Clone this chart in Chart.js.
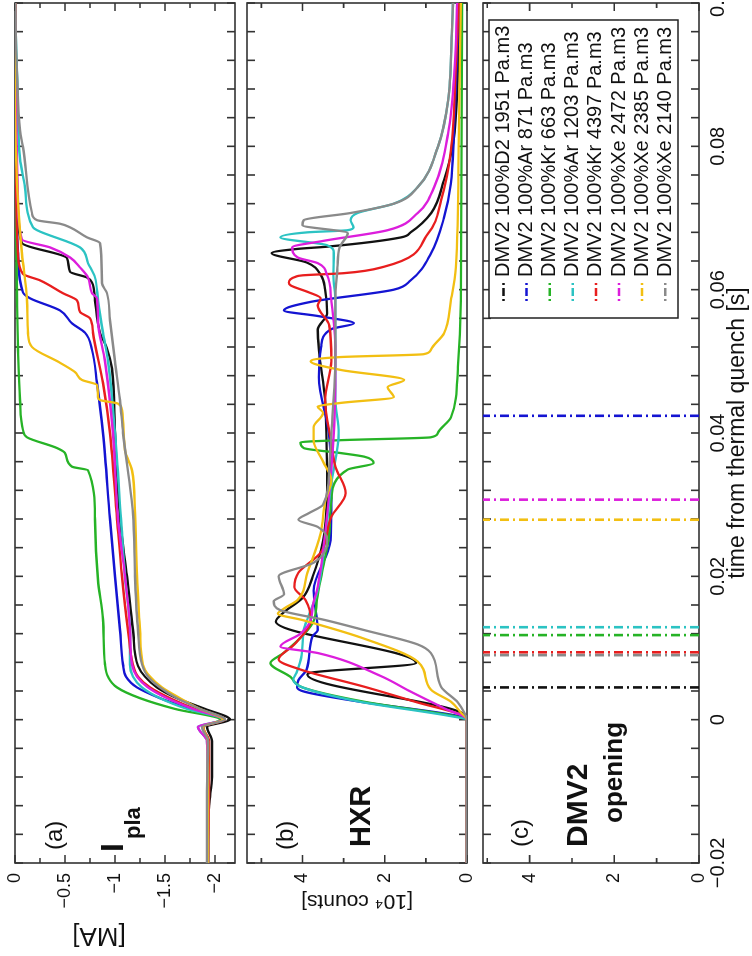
<!DOCTYPE html>
<html>
<head>
<meta charset="utf-8">
<script src="https://cdn.jsdelivr.net/npm/chart.js@4.4.1/dist/chart.umd.min.js"></script>
<style>
    html, body { margin: 0; padding: 0; background: #fff; overflow: hidden; }
    /* the figure is drawn upright and then turned a quarter turn to the left */
    #fig {
        position: absolute; left: 0; top: 0;
        width: 956px; height: 752px;
        transform-origin: 0 0;
        transform: translateY(956px) rotate(-90deg);
        background: #fff;
    }
    #fig canvas { position: absolute; left: 0; }
</style>
</head>
<body>
<div id="fig">
    <canvas id="panelA" width="956" height="241" style="top:0px"></canvas>
    <canvas id="panelB" width="956" height="234" style="top:241px"></canvas>
    <canvas id="panelC" width="956" height="277" style="top:475px"></canvas>
</div>
<script>
// ---------- data (time from thermal quench [s], value) ----------
const seriesLabels = [
    'DMV2 100%D2 1951 Pa.m3',
    'DMV2 100%Ar 871 Pa.m3',
    'DMV2 100%Kr 663 Pa.m3',
    'DMV2 100%Ar 1203 Pa.m3',
    'DMV2 100%Kr 4397 Pa.m3',
    'DMV2 100%Xe 2472 Pa.m3',
    'DMV2 100%Xe 2385 Pa.m3',
    'DMV2 100%Xe 2140 Pa.m3'
];
const seriesColors = ['#111111', '#1414d2', '#26b326', '#2cc3c3', '#e81e1e', '#dc1edc', '#f2bf12', '#8a8a8a'];

// (a) plasma current [MA]
const iplaD2_1951 = [[-0.02,-1.93],[-0.012,-1.94],[-0.008,-1.97],[-0.003,-1.97],[-0.001,-1.92],[0,-2.15],[0.0015,-1.9],[0.003,-1.62],[0.0045,-1.42],[0.006,-1.3],[0.0075,-1.23],[0.0125,-1.18],[0.02,-1.12],[0.028,-1.05],[0.04,-1.0],[0.049,-0.97],[0.0518,-0.92],[0.054,-0.85],[0.0585,-0.8],[0.061,-0.77],[0.0617,-0.72],[0.0625,-0.55],[0.0644,-0.52],[0.0665,-0.07],[0.07,-0.03],[0.08,-0.01],[0.1,0]];
const iplaAr871 = [[-0.02,-1.93],[-0.01,-1.93],[-0.003,-1.93],[-0.001,-1.88],[0,-2.08],[0.0015,-1.75],[0.003,-1.45],[0.0045,-1.22],[0.006,-1.11],[0.0077,-1.08],[0.0125,-1.05],[0.02,-1.0],[0.028,-0.95],[0.04,-0.88],[0.047,-0.82],[0.0516,-0.77],[0.054,-0.7],[0.0553,-0.57],[0.0571,-0.45],[0.0588,-0.15],[0.0596,-0.08],[0.065,-0.03],[0.075,-0.01],[0.1,0]];
const iplaKr663 = [[-0.02,-1.93],[-0.01,-1.93],[-0.003,-1.93],[-0.001,-1.88],[0,-2.05],[0.0015,-1.6],[0.003,-1.25],[0.0045,-1.02],[0.006,-0.93],[0.0077,-0.9],[0.014,-0.88],[0.0195,-0.83],[0.0279,-0.8],[0.0348,-0.73],[0.0353,-0.57],[0.0372,-0.5],[0.0379,-0.42],[0.0394,-0.12],[0.0404,-0.08],[0.0446,-0.05],[0.0516,-0.03],[0.0585,-0.02],[0.07,-0.01],[0.1,0]];
const iplaAr1203 = [[-0.02,-1.93],[-0.01,-1.93],[-0.003,-1.92],[-0.001,-1.83],[0,-2.08],[0.0015,-1.72],[0.003,-1.45],[0.0045,-1.27],[0.006,-1.18],[0.0077,-1.15],[0.0125,-1.15],[0.02,-1.1],[0.028,-1.06],[0.04,-1.0],[0.05,-0.93],[0.054,-0.88],[0.0585,-0.83],[0.0617,-0.8],[0.0637,-0.73],[0.0659,-0.65],[0.0683,-0.22],[0.0687,-0.18],[0.0743,-0.1],[0.0783,-0.05],[0.09,-0.02],[0.1,0]];
const iplaKr4397 = [[-0.02,-1.93],[-0.01,-1.94],[-0.003,-1.94],[-0.001,-1.88],[0,-2.1],[0.0015,-1.8],[0.003,-1.55],[0.0045,-1.35],[0.006,-1.23],[0.0077,-1.18],[0.0125,-1.13],[0.02,-1.07],[0.028,-1.02],[0.04,-0.95],[0.047,-0.88],[0.054,-0.78],[0.056,-0.75],[0.0569,-0.65],[0.0585,-0.62],[0.0595,-0.48],[0.0613,-0.25],[0.0622,-0.08],[0.065,-0.03],[0.075,-0.01],[0.1,0]];
const iplaXe2472 = [[-0.02,-1.93],[-0.01,-1.93],[-0.003,-1.92],[-0.001,-1.83],[0,-2.08],[0.0015,-1.78],[0.003,-1.52],[0.0045,-1.33],[0.006,-1.22],[0.0077,-1.17],[0.0125,-1.15],[0.02,-1.1],[0.028,-1.03],[0.04,-0.98],[0.05,-0.9],[0.0557,-0.83],[0.0588,-0.82],[0.0595,-0.77],[0.0617,-0.73],[0.0631,-0.65],[0.0645,-0.55],[0.0659,-0.35],[0.067,-0.07],[0.072,-0.03],[0.085,-0.01],[0.1,0]];
const iplaXe2385 = [[-0.02,-1.93],[-0.01,-1.93],[-0.003,-1.93],[-0.001,-1.88],[0,-2.08],[0.0015,-1.85],[0.003,-1.65],[0.0045,-1.47],[0.006,-1.35],[0.0077,-1.28],[0.0125,-1.25],[0.02,-1.22],[0.0288,-1.2],[0.0348,-1.17],[0.0376,-1.1],[0.0432,-1.07],[0.0441,-1.03],[0.0446,-0.85],[0.045,-0.83],[0.0467,-0.82],[0.0474,-0.67],[0.0485,-0.6],[0.0498,-0.45],[0.052,-0.17],[0.0539,-0.13],[0.0585,-0.12],[0.065,-0.07],[0.07,-0.04],[0.075,-0.02],[0.085,0],[0.1,0]];
const iplaXe2140 = [[-0.02,-1.92],[-0.01,-1.92],[-0.003,-1.93],[-0.001,-1.87],[0,-2.1],[0.0015,-1.85],[0.003,-1.62],[0.0045,-1.45],[0.006,-1.33],[0.0077,-1.27],[0.0125,-1.23],[0.02,-1.2],[0.0288,-1.18],[0.04,-1.08],[0.0446,-1.05],[0.05,-1.0],[0.0557,-0.95],[0.0595,-0.92],[0.0609,-0.87],[0.0665,-0.85],[0.0673,-0.72],[0.0687,-0.55],[0.0692,-0.45],[0.0697,-0.22],[0.0707,-0.17],[0.0799,-0.08],[0.0822,-0.05],[0.09,-0.02],[0.1,0]];

// (b) hard X-rays [10^4 counts]
const hxrD2_1951 = [[-0.02,0],[0,0],[0.0007,0.05],[0.0063,3.88],[0.0066,3.75],[0.0079,1.24],[0.0137,4.65],[0.015,4.45],[0.017,4.0],[0.02,3.75],[0.025,3.5],[0.0334,3.4],[0.04,3.42],[0.0446,3.45],[0.0516,3.6],[0.0544,3.63],[0.0567,3.4],[0.06,3.45],[0.062,3.55],[0.0638,3.9],[0.0651,4.75],[0.0657,4.1],[0.066,3.4],[0.0673,1.6],[0.068,1.37],[0.0707,0.87],[0.0753,0.56],[0.0804,0.34],[0.091,0.22],[0.1,0.18]];
const hxrAr871 = [[-0.02,0],[0,0],[0.0005,0.2],[0.0025,2.6],[0.0039,3.95],[0.0045,4.13],[0.0055,4.1],[0.007,3.9],[0.0116,3.76],[0.0125,3.63],[0.018,3.73],[0.025,3.32],[0.033,3.3],[0.04,3.36],[0.0478,3.6],[0.052,3.55],[0.0545,3.3],[0.0553,2.75],[0.0563,3.6],[0.0571,4.45],[0.0583,3.8],[0.06,1.78],[0.0613,1.37],[0.065,0.88],[0.07,0.56],[0.0748,0.39],[0.0818,0.32],[0.0957,0.22],[0.1,0.18]];
const hxrKr663 = [[-0.02,0],[0,0],[0.0005,0.3],[0.0025,2.5],[0.0045,4.0],[0.006,4.3],[0.0079,4.78],[0.0093,4.46],[0.012,3.95],[0.0139,3.72],[0.0167,3.65],[0.0213,3.5],[0.026,3.35],[0.0307,3.3],[0.0349,2.9],[0.0358,2.27],[0.0367,2.5],[0.0372,3.07],[0.0379,3.97],[0.0387,4.05],[0.039,3.07],[0.0394,0.88],[0.04,0.71],[0.0422,0.39],[0.0492,0.22],[0.0585,0.15],[0.1,0.12]];
const hxrAr1203 = [[-0.02,0],[0,0],[0.0005,0.4],[0.0025,2.6],[0.0045,4.0],[0.0056,4.22],[0.0065,4.15],[0.009,4.02],[0.0125,3.97],[0.0145,3.85],[0.018,3.63],[0.025,3.45],[0.033,3.3],[0.04,3.12],[0.0446,3.2],[0.0516,3.2],[0.0585,3.2],[0.062,3.25],[0.0651,3.24],[0.0662,3.4],[0.0673,4.54],[0.068,3.88],[0.0683,2.9],[0.0687,2.76],[0.0697,2.83],[0.0707,2.66],[0.072,1.78],[0.0743,1.2],[0.0799,0.71],[0.0864,0.46],[0.0957,0.37],[0.1,0.34]];
const hxrKr4397 = [[-0.02,0],[0,0],[0.0007,0.15],[0.0024,1.2],[0.0046,2.5],[0.007,4.05],[0.0084,4.58],[0.0105,4.2],[0.0139,3.8],[0.0167,3.93],[0.0185,4.2],[0.0205,4.1],[0.0233,3.56],[0.0283,3.3],[0.0316,2.95],[0.0353,3.2],[0.0386,3.3],[0.0446,3.45],[0.05,3.3],[0.055,3.35],[0.0578,3.63],[0.0588,3.56],[0.0597,3.88],[0.0606,4.29],[0.061,4.33],[0.0618,4.17],[0.062,4.0],[0.0623,3.0],[0.0632,2.02],[0.0678,0.95],[0.0725,0.63],[0.0794,0.39],[0.091,0.27],[0.1,0.2]];
const hxrXe2472 = [[-0.02,0],[0,0],[0.0016,0.56],[0.004,1.4],[0.0061,2.1],[0.0093,3.63],[0.0102,4.54],[0.012,4.05],[0.0139,3.8],[0.016,3.75],[0.018,3.65],[0.026,3.45],[0.04,3.24],[0.0516,3.2],[0.0585,3.3],[0.062,3.4],[0.0637,3.63],[0.0645,4.12],[0.0659,4.25],[0.0668,3.5],[0.0683,1.93],[0.0707,1.2],[0.0743,0.8],[0.0818,0.46],[0.091,0.3],[0.1,0.24]];
const hxrXe2385 = [[-0.02,0],[0,0],[0.001,0.15],[0.0025,0.39],[0.0042,0.88],[0.0081,1.2],[0.0115,2.6],[0.0139,4.0],[0.0148,4.6],[0.0155,4.45],[0.0167,4.12],[0.0205,3.88],[0.026,3.56],[0.0307,3.44],[0.0334,3.3],[0.036,3.5],[0.039,3.73],[0.0408,3.73],[0.0428,3.5],[0.0437,3.63],[0.0442,3.07],[0.045,1.78],[0.0464,1.93],[0.0474,1.53],[0.0488,3.07],[0.05,3.8],[0.0506,3.07],[0.051,1.05],[0.0516,0.88],[0.0539,0.56],[0.0585,0.39],[0.0631,0.27],[0.0818,0.2],[0.1,0.15]];
const hxrXe2140 = [[-0.02,0],[0,0],[0.001,0.07],[0.0024,0.22],[0.0046,0.63],[0.0093,0.88],[0.0105,1.2],[0.0125,2.5],[0.0139,3.45],[0.0153,4.55],[0.0165,4.7],[0.0175,4.45],[0.02,4.58],[0.0219,3.73],[0.025,3.4],[0.0269,3.63],[0.0279,4.1],[0.0288,3.85],[0.03,3.5],[0.035,3.35],[0.04,3.3],[0.05,3.2],[0.0585,3.2],[0.0631,3.15],[0.0659,3.1],[0.0679,2.9],[0.069,4.0],[0.0697,3.97],[0.0707,2.83],[0.072,1.78],[0.0743,1.2],[0.0799,0.71],[0.0864,0.46],[0.0957,0.37],[0.1,0.34]];

// (c) DMV2 opening time [s]
const dmvOpening = [0.0045, 0.0424, 0.0118, 0.0129, 0.0094, 0.0307, 0.0279, 0.0090];

const iplaSeries = [iplaD2_1951, iplaAr871, iplaKr663, iplaAr1203, iplaKr4397, iplaXe2472, iplaXe2385, iplaXe2140];
const hxrSeries = [hxrD2_1951, hxrAr871, hxrKr663, hxrAr1203, hxrKr4397, hxrXe2472, hxrXe2385, hxrXe2140];

// axis ticks
const timeTicks = Array.from({ length: 31 }, (_, i) => -0.02 + i * 0.004);
const iplaTicks = Array.from({ length: 9 }, (_, i) => -2 + i * 0.25);
const hxrTicks = [0, 1, 2, 3, 4, 5];
const dmvTicks = [0, 1, 2, 3, 4, 5];
const hxrMax = 5.35;
const dmvMax = 5.1;

// ---------- helpers ----------
Chart.defaults.font.family = '"Liberation Sans", Arial, sans-serif';
Chart.defaults.color = '#111';

function isMult(v, step) {
    return Math.abs(v / step - Math.round(v / step)) < 1e-6;
}

function fmt(v) {
    return String(parseFloat(v.toFixed(3))).replace('-', '\u2212');
}

function timeScale(showLabels) {
    return {
        type: 'linear', min: -0.02, max: 0.1,
        grid: { display: false, drawTicks: false },
        border: { display: false },
        afterBuildTicks: s => { s.ticks = timeTicks.map(v => ({ value: v })); },
        ticks: {
            display: showLabels, autoSkip: false, maxRotation: 0, padding: 7,
            font: { size: 20 },
            callback: v => isMult(v, 0.02) ? fmt(v) : ''
        },
        title: {
            display: showLabels,
            text: 'time from thermal quench [s]',
            font: { size: 23, lineHeight: 1 },
            padding: { top: 0, bottom: 3 }
        },
        afterFit: s => {
            s.paddingLeft = 0; s.paddingRight = 0;
            s.height = showLabels ? 53 : 0;
        }
    };
}

function valueScale(min, max, ticks, labelStep, title) {
    return {
        type: 'linear', min: min, max: max,
        grid: { display: false, drawTicks: false },
        border: { display: false },
        afterBuildTicks: s => { s.ticks = ticks.map(v => ({ value: v })); },
        ticks: {
            padding: 10, autoSkip: false, font: { size: 18 },
            callback: v => isMult(v, labelStep) ? fmt(v) : ''
        },
        title: title || { display: false },
        afterFit: s => { s.width = 93; s.paddingTop = 0; s.paddingBottom = 0; }
    };
}

// frame with tick marks pointing inwards on all four sides
const frameTicks = {
    id: 'frameTicks',
    beforeDatasetsDraw(chart) {
        const { ctx, chartArea: a, scales: { x, y } } = chart;
        ctx.save();
        ctx.strokeStyle = '#333';
        ctx.lineWidth = 1.6;
        ctx.strokeRect(a.left, a.top, a.width, a.height);
        ctx.beginPath();
        x.ticks.forEach(t => {
            const px = x.getPixelForValue(t.value);
            ctx.moveTo(px, a.bottom); ctx.lineTo(px, a.bottom - 8);
            ctx.moveTo(px, a.top); ctx.lineTo(px, a.top + 8);
        });
        y.ticks.forEach(t => {
            const py = y.getPixelForValue(t.value);
            const len = t.label ? 8 : 5;
            ctx.moveTo(a.left, py); ctx.lineTo(a.left + len, py);
            ctx.moveTo(a.right, py); ctx.lineTo(a.right - len, py);
        });
        ctx.stroke();
        ctx.restore();
    }
};

// panel letters and labels (rot: rotated like an axis title)
const panelNotes = {
    panelA: [
        { text: '(a)', x: 106, y: 62, font: '24px' },
        { text: 'I', x: 104, y: 123, font: 'bold 32px' },
        { text: 'pla', x: 117, y: 140, font: 'bold 22px' },
        { text: '[MA]', x: 21, y: 99, font: '26px', rot: true }
    ],
    panelB: [
        { text: '(b)', x: 106, y: 52, font: '24px' },
        { text: 'HXR', x: 109, y: 129, font: 'bold 29px' }
    ],
    panelC: [
        { text: '(c)', x: 109, y: 53, font: '24px' },
        { text: 'DMV2', x: 109, y: 112, font: 'bold 30px' },
        { text: 'opening', x: 133, y: 147, font: 'bold 26px' }
    ]
};

const notes = {
    id: 'notes',
    afterDraw(chart) {
        const ctx = chart.ctx;
        (panelNotes[chart.canvas.id] || []).forEach(n => {
            ctx.save();
            ctx.fillStyle = '#111';
            ctx.font = n.font + ' "Liberation Sans", Arial, sans-serif';
            if (n.rot) {
                ctx.translate(n.x, n.y);
                ctx.rotate(-Math.PI / 2);
                ctx.textAlign = 'center';
                ctx.textBaseline = 'middle';
                ctx.fillText(n.text, 0, 0);
            } else {
                ctx.textBaseline = 'alphabetic';
                ctx.fillText(n.text, n.x, n.y);
            }
            ctx.restore();
        });
    }
};

// boxed legend inside panel (c)
const legendBox = {
    id: 'legendBox',
    afterDraw(chart) {
        const ctx = chart.ctx;
        const x0 = 638, y0 = 14, w = 298, h = 189;
        ctx.save();
        ctx.fillStyle = '#fff';
        ctx.fillRect(x0, y0, w, h);
        ctx.strokeStyle = '#222';
        ctx.lineWidth = 1.5;
        ctx.strokeRect(x0, y0, w, h);
        ctx.font = '20px "Liberation Sans", Arial, sans-serif';
        ctx.textBaseline = 'middle';
        seriesLabels.forEach((lab, i) => {
            const yy = y0 + 14.5 + i * 23.1;
            ctx.strokeStyle = seriesColors[i];
            ctx.lineWidth = 2.5;
            ctx.setLineDash([2, 3, 8, 3]);
            ctx.beginPath();
            ctx.moveTo(655, yy); ctx.lineTo(675, yy);
            ctx.stroke();
            ctx.setLineDash([]);
            ctx.fillStyle = '#111';
            ctx.fillText(lab, 679, yy);
        });
        ctx.restore();
    }
};

function curveSets(list) {
    return list.map((pts, i) => ({
        label: seriesLabels[i],
        data: pts.map(p => ({ x: p[0], y: p[1] })),
        borderColor: seriesColors[i],
        borderWidth: 2.3,
        cubicInterpolationMode: 'monotone',
        order: -i
    }));
}

function makeChart(id, datasets, yScale, showTime, pad, extra) {
    return new Chart(document.getElementById(id), {
        type: 'line',
        data: { datasets: datasets },
        options: {
            responsive: false,
            animation: false,
            events: [],
            layout: { padding: pad },
            plugins: { legend: { display: false }, tooltip: { enabled: false } },
            elements: { point: { radius: 0 }, line: { tension: 0 } },
            scales: { x: timeScale(showTime), y: yScale }
        },
        plugins: [frameTicks, notes].concat(extra || [])
    });
}

// (a) Ipla
makeChart('panelA', curveSets(iplaSeries),
    valueScale(-2.2, 0, iplaTicks, 0.5),
    false, { top: 15, bottom: 6, left: 0, right: 3 });

// (b) HXR
makeChart('panelB', curveSets(hxrSeries),
    valueScale(0, hxrMax, hxrTicks, 2, {
        display: true, text: '[10\u2074 counts]',
        font: { size: 21, lineHeight: 1 }, padding: { top: 45, bottom: 0 }
    }),
    false, { top: 6, bottom: 8, left: 0, right: 3 });

// (c) DMV2 opening times as dash-dot markers across the panel
const openSets = dmvOpening.map((t, i) => ({
    label: seriesLabels[i],
    data: [{ x: t, y: 0 }, { x: t, y: dmvMax }],
    borderColor: seriesColors[i],
    borderWidth: 2.6,
    borderDash: [9, 4, 2, 4],
    order: -i
}));

makeChart('panelC', openSets,
    valueScale(0, dmvMax, dmvTicks, 2),
    true, { top: 8, bottom: 0, left: 0, right: 3 }, [legendBox]);
</script>
</body>
</html>
